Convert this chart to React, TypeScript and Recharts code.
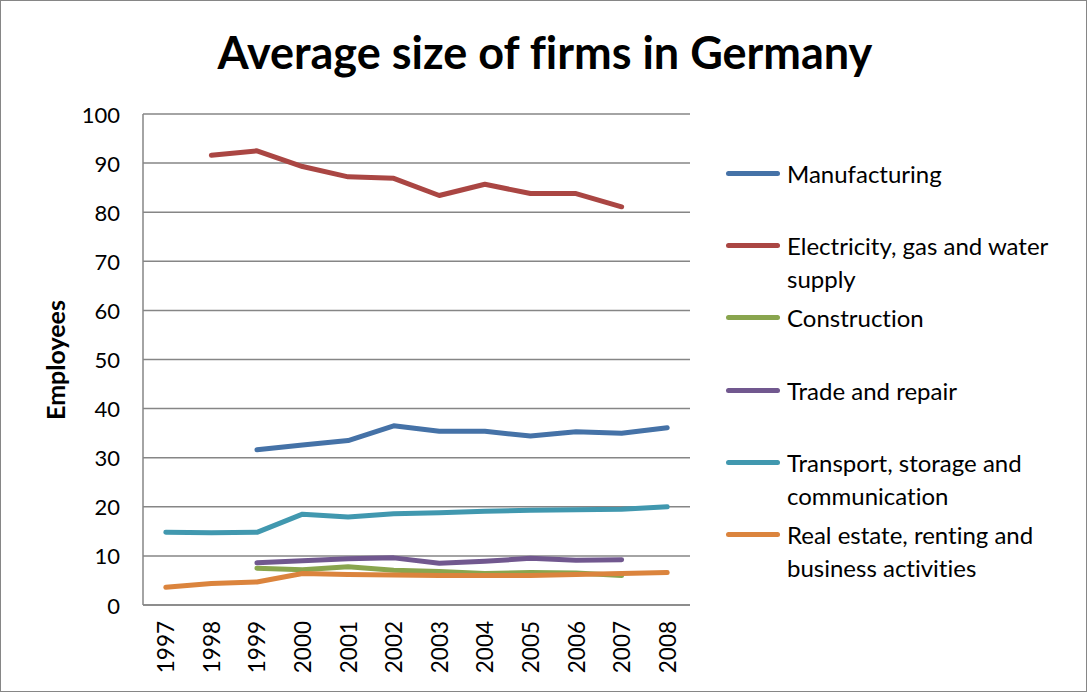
import React from 'react';
import { LineChart, Line, XAxis, YAxis, CartesianGrid } from 'recharts';

const years = ['1997', '1998', '1999', '2000', '2001', '2002', '2003', '2004', '2005', '2006', '2007', '2008'];
const manufacturing = [null, null, 31.6, 32.6, 33.5, 36.5, 35.4, 35.4, 34.4, 35.3, 35.0, 36.1];
const electricity = [null, 91.6, 92.5, 89.3, 87.2, 86.9, 83.4, 85.7, 83.8, 83.8, 81.1, null];
const construction = [null, null, 7.5, 7.2, 7.8, 7.1, 6.8, 6.4, 6.6, 6.5, 6.0, null];
const trade = [null, null, 8.6, 9.0, 9.4, 9.6, 8.5, 8.9, 9.5, 9.1, 9.2, null];
const transport = [14.8, 14.7, 14.8, 18.5, 17.9, 18.6, 18.8, 19.1, 19.3, 19.4, 19.5, 20.0];
const realEstate = [3.6, 4.4, 4.7, 6.4, 6.2, 6.1, 6.0, 6.0, 6.0, 6.2, 6.4, 6.6];
const yTicks = [0, 10, 20, 30, 40, 50, 60, 70, 80, 90, 100];

const seriesNames = [
  'Manufacturing',
  'Electricity, gas and water supply',
  'Construction',
  'Trade and repair',
  'Transport, storage and communication',
  'Real estate, renting and business activities',
];
const seriesKeys = ['manufacturing', 'electricity', 'construction', 'trade', 'transport', 'realEstate'];
const seriesColors = ['#4572A7', '#AA4643', '#89A54E', '#71588F', '#4198AF', '#DB843D'];
const seriesValues = [manufacturing, electricity, construction, trade, transport, realEstate];

const data = years.map((y, i) => {
  const row: any = { year: y };
  seriesKeys.forEach((k, j) => {
    row[k] = seriesValues[j][i];
  });
  return row;
});

const FONT = 'Lato, "Open Sans", sans-serif';

const XTick = (props: any) => {
  const { x, y, payload } = props;
  return (
    <text
      x={x}
      y={y}
      transform={`rotate(-90, ${x}, ${y})`}
      textAnchor="end"
      dominantBaseline="central"
      fontSize={22.5}
      fontFamily={FONT}
      fill="#000"
    >
      {payload.value}
    </text>
  );
};

const YTick = (props: any) => {
  const { x, y, payload } = props;
  return (
    <text x={x} y={y} textAnchor="end" dominantBaseline="central" fontSize={22} fontFamily={FONT} fill="#000">
      {payload.value}
    </text>
  );
};

export default function App() {
  return (
    <div
      style={{
        position: 'absolute',
        left: 0,
        top: 0,
        width: 1088,
        height: 693,
        background: '#fff',
        fontFamily: FONT,
        fontVariantLigatures: 'none',
      }}
    >
      <div
        style={{
          position: 'absolute',
          left: 0,
          top: 0,
          width: 1087,
          height: 692,
          border: '1px solid #868686',
          boxSizing: 'border-box',
        }}
      />
      <div
        style={{
          position: 'absolute',
          left: 0,
          width: 1088,
          top: 22,
          textAlign: 'center',
          fontSize: 45,
          fontWeight: 700,
          color: '#000',
          lineHeight: '60px',
          paddingLeft: 2,
          boxSizing: 'border-box',
        }}
      >
        Average size of firms in Germany
      </div>
      <div
        style={{
          position: 'absolute',
          left: 55,
          top: 360,
          transform: 'translate(-50%, -50%) rotate(-90deg)',
          fontSize: 25,
          fontWeight: 700,
          whiteSpace: 'nowrap',
        }}
      >
        Employees
      </div>
      <div style={{ position: 'absolute', left: 0, top: 0 }}>
        <LineChart width={1088} height={693} data={data} margin={{ top: 114, right: 398, bottom: 0, left: 0 }}>
          <CartesianGrid vertical={false} stroke="#868686" strokeWidth={1.5} />
          <XAxis
            dataKey="year"
            scale="band"
            tick={<XTick />}
            tickLine={false}
            tickSize={6}
            tickMargin={10}
            axisLine={{ stroke: '#868686', strokeWidth: 1.5 }}
            interval={0}
            height={88}
          />
          <YAxis
            domain={[0, 100]}
            ticks={yTicks}
            tick={<YTick />}
            tickLine={false}
            tickSize={6}
            tickMargin={17}
            axisLine={{ stroke: '#868686', strokeWidth: 1.5 }}
            width={143}
            interval={0}
          />
          {seriesKeys.map((k, i) => (
            <Line
              key={k}
              dataKey={k}
              name={seriesNames[i]}
              stroke={seriesColors[i]}
              strokeWidth={5}
              strokeLinecap="round"
              strokeLinejoin="round"
              dot={false}
              activeDot={false}
              isAnimationActive={false}
            />
          ))}
        </LineChart>
      </div>
      <div style={{ position: 'absolute', left: 726, top: 157, width: 360, height: 480 }}>
        {seriesNames.map((name, i) => (
          <div
            key={name}
            style={{
              position: 'absolute',
              left: 0,
              top: i * 72.2,
              display: 'flex',
              alignItems: 'flex-start',
            }}
          >
            <div
              style={{
                width: 54,
                height: 5,
                borderRadius: 3,
                background: seriesColors[i],
                marginTop: 14,
                marginRight: 7,
                flexShrink: 0,
              }}
            />
            <div style={{ fontSize: 24, lineHeight: '33px', color: '#000', width: 295 }}>{name}</div>
          </div>
        ))}
      </div>
    </div>
  );
}
